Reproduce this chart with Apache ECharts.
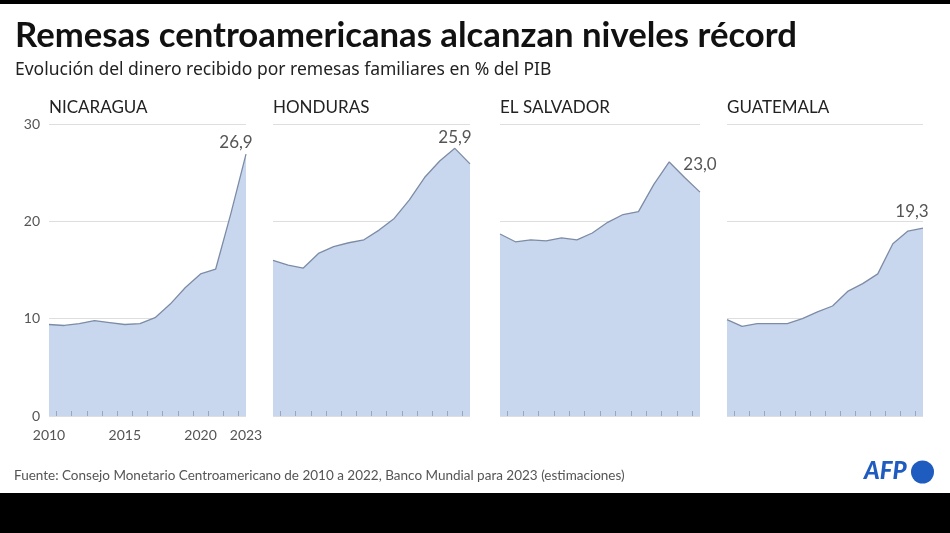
<!DOCTYPE html>
<html>
<head>
<meta charset="utf-8">
<script src="https://cdn.jsdelivr.net/npm/echarts@6/dist/echarts.min.js"></script>
<style>
html,body{margin:0;padding:0;background:#fff;}
#c{width:950px;height:533px;}
</style>
</head>
<body>
<div id="c"></div>
<script>
const years = ['2010','2011','2012','2013','2014','2015','2016','2017','2018','2019','2020','2021','2022','2023'];
const countries = ['NICARAGUA','HONDURAS','EL SALVADOR','GUATEMALA'];
const nicaragua  = [9.4, 9.3, 9.5, 9.8, 9.6, 9.4, 9.5, 10.1, 11.5, 13.2, 14.6, 15.1, 20.8, 26.9];
const honduras   = [16.0, 15.5, 15.2, 16.7, 17.4, 17.8, 18.1, 19.1, 20.3, 22.2, 24.5, 26.2, 27.5, 25.9];
const elSalvador = [18.7, 17.9, 18.1, 18.0, 18.3, 18.1, 18.8, 19.9, 20.7, 21.0, 23.8, 26.1, 24.5, 23.0];
const guatemala  = [9.9, 9.2, 9.5, 9.5, 9.5, 10.0, 10.7, 11.3, 12.8, 13.6, 14.6, 17.7, 19.0, 19.3];
const yTicks = [0, 10, 20, 30];
const xLabelYears = ['2010','2015','2020','2023'];
const seriesValues = [nicaragua, honduras, elSalvador, guatemala];

const FONT = 'Lato, "Noto Sans", sans-serif';
const gridsPos = [
  {left: 49, width: 197},
  {left: 273, width: 197},
  {left: 500, width: 200},
  {left: 727, width: 196}
];
const labelOffsets = [[-10, 2], [-15, -13], [0, -14], [-11, -3]];

const chart = echarts.init(document.getElementById('c'), null, {renderer: 'canvas'});

const grids = [], xAxes = [], yAxes = [], series = [], titles = [];
// half-step helper categories for between-year ticks
const halfSteps = [];
for (let i = 0; i < years.length * 2 - 1; i++) halfSteps.push(String(i));

gridsPos.forEach((g, k) => {
  grids.push({left: g.left, width: g.width, top: 124, height: 292});
  xAxes.push({
    type: 'category', gridIndex: k, data: years, boundaryGap: false,
    axisLine: {show: false},
    axisTick: {show: false},
    axisLabel: {
      show: k === 0, color: '#555', fontFamily: FONT, fontSize: 14, margin: 12,
      interval: (i, v) => xLabelYears.indexOf(v) >= 0
    },
    splitLine: {show: false}
  });
  yAxes.push({
    type: 'value', gridIndex: k, min: yTicks[0], max: yTicks[yTicks.length - 1], interval: 10,
    axisLine: {show: false}, axisTick: {show: false},
    axisLabel: {show: k === 0, color: '#555', fontFamily: FONT, fontSize: 14, margin: 9},
    splitLine: {show: true, lineStyle: {color: '#dedede', width: 1}}
  });
  const vals = seriesValues[k];
  series.push({
    type: 'line', xAxisIndex: k, yAxisIndex: k, z: 2,
    showSymbol: true, symbol: 'circle', symbolSize: 0.01,
    itemStyle: {color: 'rgba(0,0,0,0)'},
    data: vals.map((v, i) => i === vals.length - 1 ? {
      value: v,
      label: {
        show: true, position: 'top', offset: labelOffsets[k],
        formatter: v.toFixed(1).replace('.', ','),
        color: '#555', fontFamily: FONT, fontSize: 17
      }
    } : v),
    lineStyle: {color: '#7d8ca6', width: 1.3},
    areaStyle: {color: '#c9d7ee', opacity: 1}
  });
  titles.push({
    text: countries[k], left: g.left, top: 99, padding: 0,
    textStyle: {fontFamily: FONT, fontSize: 17, fontWeight: 'normal', color: '#222'}
  });
});

// tick helper axes (ticks between years)
gridsPos.forEach((g, k) => {
  xAxes.push({
    type: 'category', gridIndex: k, data: halfSteps, boundaryGap: false,
    position: 'bottom',
    axisLine: {show: false}, axisLabel: {show: false}, splitLine: {show: false},
    axisTick: {show: true, inside: true, length: 5, interval: (i) => i % 2 === 1,
      lineStyle: {color: '#9aa8bf', width: 1}},
    z: 5
  });
});

titles.push({
  text: 'Remesas centroamericanas alcanzan niveles récord', left: 15, top: 18, padding: 0,
  textStyle: {fontFamily: FONT, fontSize: 34.7, fontWeight: 'bold', color: '#111'}
});
titles.push({
  text: 'Evolución del dinero recibido por remesas familiares en % del PIB', left: 15, top: 61, padding: 0,
  textStyle: {fontFamily: '"Noto Sans", sans-serif', fontSize: 17.5, fontWeight: 'normal', color: '#222'}
});
titles.push({
  text: 'Fuente: Consejo Monetario Centroamericano de 2010 a 2022, Banco Mundial para 2023 (estimaciones)',
  left: 14, top: 469, padding: 0,
  textStyle: {fontFamily: FONT, fontSize: 13.5, fontWeight: 'normal', color: '#555'}
});

chart.setOption({
  animation: false,
  backgroundColor: '#fff',
  title: titles,
  grid: grids,
  xAxis: xAxes,
  yAxis: yAxes,
  series: series,
  graphic: [
    {type: 'rect', left: 0, top: 0, shape: {width: 950, height: 4}, style: {fill: '#000'}},
    {type: 'rect', left: 0, top: 493, shape: {width: 950, height: 40}, style: {fill: '#000'}},
    {type: 'text', left: 864, top: 459, style: {text: 'AFP', font: 'italic 900 24px ' + FONT, fill: '#1f5cbf'}},
    {type: 'circle', shape: {cx: 922.5, cy: 472, r: 11.5}, style: {fill: '#1f5cbf'}}
  ]
});
</script>
</body>
</html>
